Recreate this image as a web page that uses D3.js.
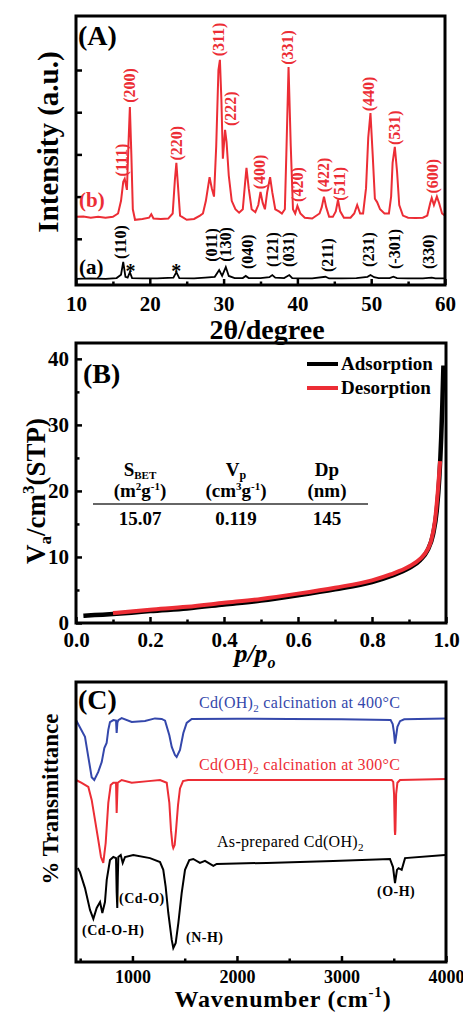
<!DOCTYPE html>
<html>
<head>
<meta charset="utf-8">
<script src="https://cdn.jsdelivr.net/npm/d3@7"></script>
<style>
  body { margin: 0; background: #fff; }
  svg text { font-family: "Liberation Serif", "Times New Roman", serif !important; }
</style>
</head>
<body>
<div id="chart"></div>
<script>
// ---------- (A) XRD ----------
// (b) red pattern: [2theta, intensity]
const xrdB = [[10,1.52],[11,1.53],[12,1.5],[13,1.52],[14,1.5],[15,1.52],[15.7,1.6],[16.1,1.9],[16.4,2.35],[16.6,2.42],[16.9,2.16],[17.1,3.2],[17.3,4.12],[17.5,3.0],[17.7,1.7],[18,1.45],[19,1.47],[19.9,1.5],[20.2,1.58],[20.5,1.48],[21.5,1.47],[22.5,1.48],[23.1,1.6],[23.4,2.4],[23.6,2.8],[23.8,2.3],[24.1,1.55],[25,1.45],[26,1.47],[26.8,1.55],[27.2,1.6],[27.6,1.9],[28.1,2.46],[28.4,2.2],[28.7,2.0],[29,3.2],[29.3,5.0],[29.5,5.24],[29.7,4.3],[29.9,2.9],[30.2,3.58],[30.4,3.3],[30.7,2.5],[31.1,1.9],[31.6,1.7],[32.1,1.62],[32.6,1.7],[32.9,2.3],[33.1,2.68],[33.4,2.2],[33.8,1.7],[34.3,1.63],[34.7,1.8],[35,2.11],[35.3,1.85],[35.6,1.7],[35.9,2.1],[36.3,2.46],[36.6,2.1],[37,1.7],[37.5,1.65],[37.9,1.6],[38.3,1.7],[38.5,3.0],[38.8,5.07],[39.1,3.2],[39.4,1.7],[39.7,1.6],[40,1.78],[40.4,1.6],[41,1.5],[42,1.48],[43,1.6],[43.3,1.75],[43.6,2.0],[43.9,1.75],[44.3,1.52],[44.8,1.52],[45.2,1.65],[45.5,1.92],[45.8,1.65],[46.3,1.5],[47.2,1.5],[47.7,1.6],[48.1,1.8],[48.5,1.6],[48.9,1.6],[49.3,2.2],[49.6,3.4],[49.9,3.98],[50.2,3.0],[50.5,1.95],[50.8,1.87],[51.2,1.7],[51.8,1.6],[52.4,1.6],[52.7,2.0],[52.9,2.8],[53.2,3.18],[53.5,2.6],[53.8,1.8],[54.3,1.55],[55,1.5],[56,1.49],[57,1.5],[57.6,1.55],[58,1.85],[58.2,1.97],[58.5,1.8],[58.9,2.0],[59.2,1.85],[59.6,1.6],[60,1.55]];
// (a) black pattern
const xrdA = [[10,0.05],[12,0.06],[14,0.05],[15.5,0.07],[16.1,0.15],[16.4,0.45],[16.7,0.1],[17,0.08],[17.3,0.21],[17.6,0.07],[19,0.06],[21,0.06],[23.2,0.08],[23.6,0.21],[24,0.07],[26,0.06],[27.5,0.08],[28.8,0.1],[29.4,0.26],[29.8,0.12],[30.3,0.33],[30.7,0.12],[31.5,0.07],[32.6,0.07],[33,0.12],[33.4,0.07],[35,0.07],[36.2,0.09],[36.6,0.14],[37,0.08],[38.2,0.07],[38.9,0.14],[39.3,0.07],[40.5,0.06],[42,0.06],[43.8,0.1],[44.3,0.06],[46,0.06],[48,0.07],[49.5,0.1],[49.9,0.14],[50.4,0.09],[51,0.07],[52.5,0.07],[53,0.1],[53.5,0.07],[55,0.06],[57,0.06],[58.2,0.08],[58.7,0.06],[60,0.06]];

const hklB = ["(111)","(200)","(220)","(311)","(222)","(400)","(331)","(420)","(422)","(511)","(440)","(531)","(600)"];
const hklBAngle = [16.1, 17.3, 23.6, 29.3, 30.9, 34.9, 38.6, 40.0, 43.5, 45.7, 49.6, 53.2, 58.3];
const hklBLevel = [2.45, 4.2, 2.83, 5.3, 3.65, 2.15, 5.1, 1.85, 2.08, 1.88, 4.0, 3.2, 2.05];

const hklA = ["(110)","(011)","(130)","(040)","(121)","(031)","(211)","(231)","(-301)","(330)"];
const hklAAngle = [16.0, 28.4, 30.2, 33.2, 36.6, 38.8, 44.0, 49.6, 53.2, 57.7];
const hklALevel = [0.5, 0.43, 0.43, 0.26, 0.31, 0.31, 0.19, 0.31, 0.26, 0.26];
const starAngle = [17.4, 23.6];

const xTicksA = [10, 20, 30, 40, 50, 60];
const xMinorA = [15, 25, 35, 45, 55];
const yTicksA = [1, 2, 3, 4, 5];

// ---------- (B) N2 isotherm ----------
const adsP = [0.02,0.05,0.1,0.15,0.2,0.3,0.4,0.5,0.6,0.7,0.8,0.85,0.9,0.93,0.95,0.965,0.975,0.982,0.987,0.99,0.993];
const adsV = [1.1,1.2,1.35,1.55,1.8,2.2,2.8,3.4,4.2,5.1,6.2,7.1,8.3,9.5,11,13.4,17,22,28,33,39];
const desP = [0.984,0.978,0.97,0.96,0.95,0.93,0.9,0.85,0.8,0.7,0.6,0.5,0.4,0.3,0.2,0.1];
const desV = [24.5,20,15.4,12.5,11.1,9.7,8.55,7.35,6.45,5.35,4.45,3.65,3.05,2.45,2.0,1.5];
const xTicksB = [0, 0.2, 0.4, 0.6, 0.8, 1.0];
const xMinorB = [0.1, 0.3, 0.5, 0.7, 0.9];
const yTicksB = [0, 10, 20, 30, 40];
const yMinorB = [5, 15, 25, 35];
const tableValues = ["15.07", "0.119", "145"];

// ---------- (C) FTIR ----------
const ir400 = [[460,86.4],[546,80.4],[578,73.2],[610,66],[635,65],[673,67.9],[706,71.4],[731,76.4],[753,78.2],[769,82.9],[785,85.7],[817,86.4],[843,86.2],[849,81.8],[856,85.5],[865,86.4],[897,87.1],[993,85.7],[1120,86.1],[1216,87],[1280,86.8],[1312,86.2],[1353,81],[1376,76.8],[1407,73.9],[1423,73.2],[1455,75.7],[1487,81.8],[1519,85.4],[1567,86.8],[2000,86.9],[2500,86.8],[3000,86.7],[3470,86.4],[3490,85],[3502,82],[3512,78],[3520,80],[3535,84],[3560,86],[3600,86.7],[4000,87]];
const ir300 = [[460,65],[514,64],[578,62.5],[610,57.9],[642,50.7],[673,43.6],[699,37.5],[721,35.4],[744,42.5],[769,56.8],[792,63.2],[817,64],[843,64],[849,53.2],[855,60],[859,64],[897,65],[993,64],[1152,64.6],[1264,65],[1328,64],[1353,56.8],[1369,47],[1383,41.8],[1391,40.7],[1404,41.8],[1417,47],[1436,56],[1455,62],[1484,64.6],[1532,65],[2000,65],[3000,65],[3480,65],[3495,64.3],[3503,60],[3510,47],[3513,45.4],[3516,47],[3523,60],[3535,64],[3560,65],[4000,65.4]];
const irRaw = [[476,33.6],[498,32.1],[546,26.4],[594,18.6],[626,15.4],[658,19.3],[690,21.4],[712,17.5],[737,21.4],[754,29.3],[785,36.4],[817,37.5],[843,37.1],[849,25],[855,19.3],[860,30],[865,37.5],[888,38.2],[907,35.4],[929,37.5],[1008,38.2],[1168,37.1],[1264,35.7],[1295,32.9],[1318,26.8],[1343,17.5],[1376,7.9],[1391,5],[1414,6.8],[1439,13.9],[1471,24.6],[1503,32.9],[1544,36.4],[1582,36.8],[1646,35.4],[1694,36.1],[1774,34.3],[1806,35],[2285,35.4],[2922,36.1],[3464,36.8],[3493,33.9],[3512,28.2],[3531,32.9],[3546,33.5],[3576,32.9],[3608,37.1],[3991,38.2]];
const xTicksC = [1000, 2000, 3000, 4000];
const xMinorC = [500, 1500, 2500, 3500];

const RED = "#ec2d35";
const BLUE = "#3447ab";

function draw() {
  const svg = d3.select("#chart").append("svg")
    .attr("width", 463).attr("height", 1012);

  // black box around a panel, from its scales
  function frame(x, y) {
    const [x0, x1] = x.range();
    const [y1, y0] = y.range();
    svg.append("rect")
      .attr("x", x0).attr("y", y0)
      .attr("width", x1 - x0).attr("height", y1 - y0)
      .attr("fill", "none").attr("stroke", "black").attr("stroke-width", 3);
  }

  function styleAxis(g, size) {
    g.attr("font-family", null);
    g.select(".domain").remove();
    g.selectAll("line").attr("stroke", "black").attr("stroke-width", 2.5);
    g.selectAll("text")
      .attr("fill", "black")
      .style("font-size", size + "px")
      .style("font-weight", "bold");
  }

  function xAxis(x, y, major, minor, size, pad, fmt) {
    const yb = y.range()[0];
    const gMaj = svg.append("g").attr("transform", `translate(0,${yb})`)
      .call(d3.axisBottom(x).tickValues(major).tickSize(-6).tickPadding(pad).tickFormat(fmt));
    styleAxis(gMaj, size);
    const gMin = svg.append("g").attr("transform", `translate(0,${yb})`)
      .call(d3.axisBottom(x).tickValues(minor).tickSize(-3.5).tickFormat(""));
    styleAxis(gMin, size);
  }

  // ================= Panel A =================
  const xA = d3.scaleLinear().domain([10, 60]).range([76, 445]);
  const yA = d3.scaleLinear().domain([-0.095, 6.28]).range([285, 16]);

  const lineA = d3.line().x(d => xA(d[0])).y(d => yA(d[1]));
  svg.append("path").datum(xrdA).attr("d", lineA)
    .attr("fill", "none").attr("stroke", "black").attr("stroke-width", 1.8);
  svg.append("path").datum(xrdB).attr("d", lineA)
    .attr("fill", "none").attr("stroke", RED).attr("stroke-width", 2);

  frame(xA, yA);
  xAxis(xA, yA, xTicksA, xMinorA, 21, 11, d3.format("d"));
  const gyA = svg.append("g").attr("transform", `translate(${xA.range()[0]},0)`)
    .call(d3.axisLeft(yA).tickValues(yTicksA).tickSize(-6).tickFormat(""));
  styleAxis(gyA, 10);

  // peak labels (rotated)
  function hklLabels(names, angles, levels, color) {
    svg.append("g").selectAll("text").data(names).join("text")
      .attr("transform", (d, i) => `translate(${xA(angles[i])},${yA(levels[i]) - 1}) rotate(-90)`)
      .attr("dy", "0.35em")
      .attr("text-anchor", "start")
      .attr("fill", color)
      .style("font-size", "16px").style("font-weight", "bold")
      .text(d => d);
  }
  hklLabels(hklB, hklBAngle, hklBLevel, RED);
  hklLabels(hklA, hklAAngle, hklALevel, "black");

  svg.append("g").selectAll("text").data(starAngle).join("text")
    .attr("x", d => xA(d)).attr("y", yA(0.21) + 6)
    .attr("text-anchor", "middle")
    .style("font-size", "20px").style("font-weight", "bold")
    .text("*");

  svg.append("text").attr("x", 79).attr("y", 207).attr("fill", RED)
    .style("font-size", "21px").style("font-weight", "bold").text("(b)");
  svg.append("text").attr("x", 79).attr("y", 274)
    .style("font-size", "21px").style("font-weight", "bold").text("(a)");
  svg.append("text").attr("x", 78).attr("y", 45)
    .style("font-size", "28px").style("font-weight", "bold").text("(A)");

  svg.append("text")
    .attr("transform", "translate(58,142) rotate(-90)")
    .attr("text-anchor", "middle")
    .style("font-size", "29px").style("font-weight", "bold")
    .text("Intensity (a.u.)");
  svg.append("text").attr("x", 267).attr("y", 339)
    .attr("text-anchor", "middle")
    .style("font-size", "28px").style("font-weight", "bold")
    .text("2θ/degree");

  // ================= Panel B =================
  const xB = d3.scaleLinear().domain([0, 1]).range([76, 446]);
  const yB = d3.scaleLinear().domain([0, 42.4]).range([623, 343]);
  const lineB = d3.line().x(d => xB(d[0])).y(d => yB(d[1])).curve(d3.curveMonotoneX);
  const ads = adsP.map((p, i) => [p, adsV[i]]);
  const des = desP.map((p, i) => [p, desV[i]]).reverse();
  svg.append("path").datum(ads).attr("d", lineB)
    .attr("fill", "none").attr("stroke", "black").attr("stroke-width", 4.5);
  svg.append("path").datum(des).attr("d", lineB)
    .attr("fill", "none").attr("stroke", RED).attr("stroke-width", 4);

  frame(xB, yB);
  xAxis(xB, yB, xTicksB, xMinorB, 21, 9, d3.format(".1f"));
  const gyB = svg.append("g").attr("transform", `translate(${xB.range()[0]},0)`)
    .call(d3.axisLeft(yB).tickValues(yTicksB).tickSize(-6).tickPadding(7).tickFormat(d3.format("d")));
  styleAxis(gyB, 21);
  const gyB2 = svg.append("g").attr("transform", `translate(${xB.range()[0]},0)`)
    .call(d3.axisLeft(yB).tickValues(yMinorB).tickSize(-3.5).tickFormat(""));
  styleAxis(gyB2, 21);

  svg.append("text").attr("x", 83).attr("y", 383)
    .style("font-size", "28px").style("font-weight", "bold").text("(B)");

  // legend
  const legend = [["Adsorption", "black", 364], ["Desorption", RED, 388]];
  legend.forEach(([name, color, ly]) => {
    svg.append("line").attr("x1", 307).attr("x2", 338).attr("y1", ly).attr("y2", ly)
      .attr("stroke", color).attr("stroke-width", 4);
    svg.append("text").attr("x", 341).attr("y", ly + 6)
      .style("font-size", "19px").style("font-weight", "bold").text(name);
  });

  // table of textural data
  const tcx = [140, 236, 327];
  const tb = svg.append("g").style("font-size", "19px").style("font-weight", "bold")
    .attr("text-anchor", "middle");
  const h1 = tb.append("text").attr("x", tcx[0]).attr("y", 476);
  h1.append("tspan").text("S");
  h1.append("tspan").attr("dy", 3).style("font-size", "11px").text("BET");
  const h2 = tb.append("text").attr("x", tcx[1]).attr("y", 476);
  h2.append("tspan").text("V");
  h2.append("tspan").attr("dy", 3).style("font-size", "12px").text("p");
  tb.append("text").attr("x", tcx[2]).attr("y", 476).text("Dp");

  const u1 = tb.append("text").attr("x", tcx[0]).attr("y", 497);
  u1.append("tspan").text("(m");
  u1.append("tspan").attr("dy", -7).style("font-size", "11px").text("2");
  u1.append("tspan").attr("dy", 7).text("g");
  u1.append("tspan").attr("dy", -7).style("font-size", "11px").text("-1");
  u1.append("tspan").attr("dy", 7).text(")");
  const u2 = tb.append("text").attr("x", tcx[1]).attr("y", 497);
  u2.append("tspan").text("(cm");
  u2.append("tspan").attr("dy", -7).style("font-size", "11px").text("3");
  u2.append("tspan").attr("dy", 7).text("g");
  u2.append("tspan").attr("dy", -7).style("font-size", "11px").text("-1");
  u2.append("tspan").attr("dy", 7).text(")");
  tb.append("text").attr("x", tcx[2]).attr("y", 497).text("(nm)");
  tb.append("line").attr("x1", 93).attr("x2", 368).attr("y1", 504).attr("y2", 504)
    .attr("stroke", "#333").attr("stroke-width", 1.3);
  tableValues.forEach((v, i) => tb.append("text").attr("x", tcx[i]).attr("y", 525).text(v));

  const yl = svg.append("text")
    .attr("transform", "translate(45,491) rotate(-90)")
    .attr("text-anchor", "middle")
    .style("font-size", "27px").style("font-weight", "bold");
  yl.append("tspan").text("V");
  yl.append("tspan").attr("dy", 6).style("font-size", "17px").text("a");
  yl.append("tspan").attr("dy", -6).text("/cm");
  yl.append("tspan").attr("dy", -11).style("font-size", "17px").text("3");
  yl.append("tspan").attr("dy", 11).text("(STP)");

  const xl = svg.append("text").attr("x", 255).attr("y", 662)
    .attr("text-anchor", "middle")
    .style("font-size", "26px").style("font-weight", "bold").style("font-style", "italic");
  xl.append("tspan").text("p/p");
  xl.append("tspan").attr("dy", 6).style("font-size", "16px").text("o");

  // ================= Panel C =================
  const xC = d3.scaleLinear().domain([460, 4000]).range([76, 446]);
  const yC = d3.scaleLinear().domain([0, 100]).range([962, 682]);
  const lineC = d3.line().x(d => xC(d[0])).y(d => yC(d[1]));
  [[ir400, BLUE], [ir300, RED], [irRaw, "black"]].forEach(([s, c]) => {
    svg.append("path").datum(s).attr("d", lineC)
      .attr("fill", "none").attr("stroke", c).attr("stroke-width", 2);
  });

  frame(xC, yC);
  xAxis(xC, yC, xTicksC, xMinorC, 18, 8, d3.format("d"));

  svg.append("text").attr("x", 78).attr("y", 709)
    .style("font-size", "28px").style("font-weight", "bold").text("(C)");

  function sampleLabel(x, y, color, pre, post) {
    const t = svg.append("text").attr("x", x).attr("y", y).attr("fill", color)
      .style("font-size", "16px").style("letter-spacing", "0.3px");
    t.append("tspan").text(pre);
    t.append("tspan").attr("dy", 4).style("font-size", "11px").text("2");
    t.append("tspan").attr("dy", -4).text(post);
    return t;
  }
  sampleLabel(199, 708, BLUE, "Cd(OH)", " calcination at 400°C");
  sampleLabel(199, 770, RED, "Cd(OH)", " calcination at 300°C");
  sampleLabel(217, 847, "black", "As-prepared Cd(OH)", "");

  const bands = [["(Cd-O-H)", 82, 935], ["(Cd-O)", 119, 903], ["(N-H)", 186, 942], ["(O-H)", 377, 896]];
  svg.append("g").selectAll("text").data(bands).join("text")
    .attr("x", d => d[1]).attr("y", d => d[2])
    .style("font-size", "14px").style("font-weight", "bold").style("letter-spacing", "0.5px")
    .text(d => d[0]);

  svg.append("text")
    .attr("transform", "translate(58,799) rotate(-90)")
    .attr("text-anchor", "middle")
    .style("font-size", "23px").style("font-weight", "bold")
    .text("% Transmittance");

  const wl = svg.append("text").attr("x", 283).attr("y", 1007)
    .attr("text-anchor", "middle")
    .style("font-size", "24px").style("font-weight", "bold").style("letter-spacing", "0.8px");
  wl.append("tspan").text("Wavenumber (cm");
  wl.append("tspan").attr("dy", -10).style("font-size", "15px").text("-1");
  wl.append("tspan").attr("dy", 10).text(")");
}

draw();
</script>
</body>
</html>
